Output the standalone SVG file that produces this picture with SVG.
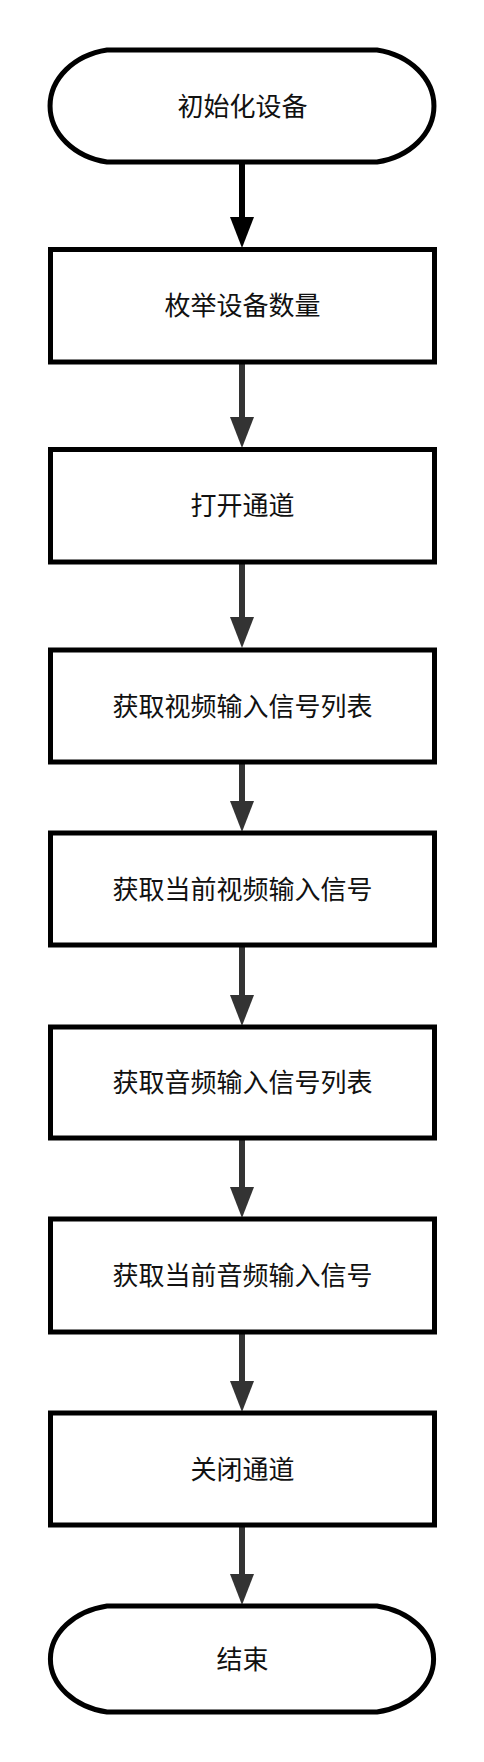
<svg xmlns="http://www.w3.org/2000/svg" width="484" height="1762" viewBox="0 0 484 1762">
<style>
.shape{fill:#fff;stroke:#000;stroke-width:5}
.lbl{font-family:"Microsoft YaHei","Noto Sans CJK SC",sans-serif;font-size:26px;fill:#111;text-anchor:middle}
.c1{stroke:#000;stroke-width:6;fill:none}
.c2{stroke:#333;stroke-width:6;fill:none}
</style>
<defs>
<marker id="ahBlack" markerUnits="userSpaceOnUse" markerWidth="31" markerHeight="24" refX="0" refY="12" orient="auto" viewBox="0 0 31 24"><path d="M0,0 L31,12 L0,24 Z" fill="#000"/></marker>
<marker id="ahGray" markerUnits="userSpaceOnUse" markerWidth="31" markerHeight="24" refX="0" refY="12" orient="auto" viewBox="0 0 31 24"><path d="M0,0 L31,12 L0,24 Z" fill="#333"/></marker>
</defs>
<rect width="484" height="1762" fill="#fff"/>
<g id="connectors">
<path class="c1" d="M242,162 V217" marker-end="url(#ahBlack)"/>
<path class="c2" d="M242,362 V417" marker-end="url(#ahGray)"/>
<path class="c2" d="M242,562 V617" marker-end="url(#ahGray)"/>
<path class="c2" d="M242,762 V801" marker-end="url(#ahGray)"/>
<path class="c2" d="M242,945 V995" marker-end="url(#ahGray)"/>
<path class="c2" d="M242,1138 V1187" marker-end="url(#ahGray)"/>
<path class="c2" d="M242,1332 V1381" marker-end="url(#ahGray)"/>
<path class="c2" d="M242,1525 V1574" marker-end="url(#ahGray)"/>
</g>
<g id="start">
<path class="shape" d="M107,50 H377 A70,57 0 0 1 377,162 H107 A70,57 0 0 1 107,50 Z"/>
<text class="lbl" x="242.5" y="116">初始化设备</text>
</g>
<g id="n1">
<rect class="shape" x="50.5" y="249.5" width="384" height="112.5"/>
<text class="lbl" x="242.5" y="315">枚举设备数量</text>
</g>
<g id="n2">
<rect class="shape" x="50.5" y="449.5" width="384" height="112.5"/>
<text class="lbl" x="242.5" y="515">打开通道</text>
</g>
<g id="n3">
<rect class="shape" x="50.5" y="650" width="384" height="112"/>
<text class="lbl" x="242.5" y="716">获取视频输入信号列表</text>
</g>
<g id="n4">
<rect class="shape" x="50.5" y="833" width="384" height="112"/>
<text class="lbl" x="242.5" y="899">获取当前视频输入信号</text>
</g>
<g id="n5">
<rect class="shape" x="50.5" y="1027" width="384" height="111"/>
<text class="lbl" x="242.5" y="1092">获取音频输入信号列表</text>
</g>
<g id="n6">
<rect class="shape" x="50.5" y="1219" width="384" height="113"/>
<text class="lbl" x="242.5" y="1285">获取当前音频输入信号</text>
</g>
<g id="n7">
<rect class="shape" x="50.5" y="1413" width="384" height="112"/>
<text class="lbl" x="242.5" y="1479">关闭通道</text>
</g>
<g id="end">
<path class="shape" d="M107,1606 H377 A70,54 0 0 1 377,1712 H107 A70,54 0 0 1 107,1606 Z"/>
<text class="lbl" x="242.5" y="1669">结束</text>
</g>
</svg>
